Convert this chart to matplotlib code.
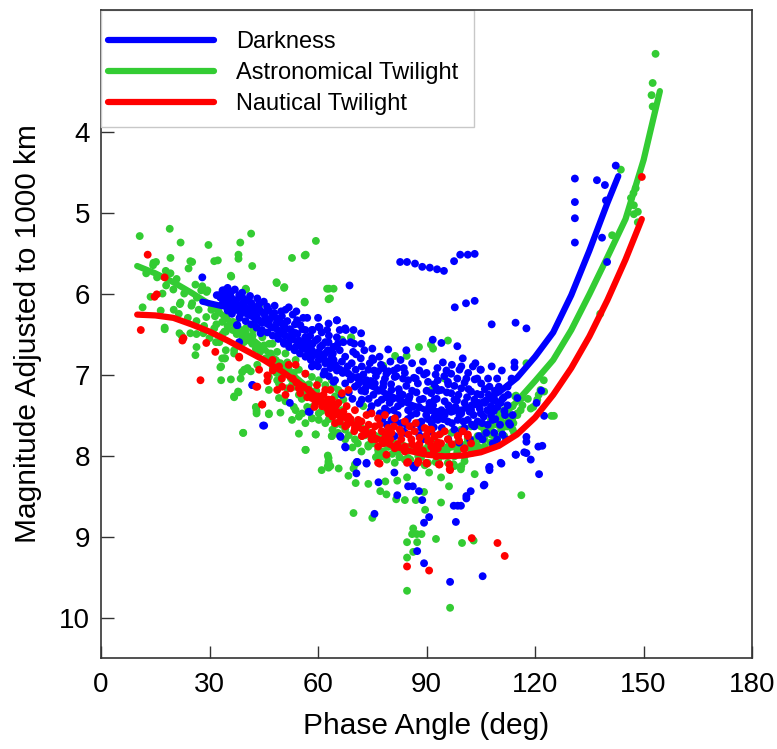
import matplotlib
matplotlib.use("Agg")
import matplotlib.pyplot as plt
from matplotlib.lines import Line2D
from matplotlib.patches import Rectangle

plt.rcParams['font.family'] = ['Liberation Sans', 'DejaVu Sans']

# ---------------- fitted curves (phase angle deg, magnitude) ----------------
dark_curve_x = [28, 30, 35, 40, 45, 50, 55, 60, 65, 70, 75, 80, 85, 90, 95, 100, 105, 110, 115, 120, 125, 130, 135, 140, 143]
dark_curve_y = [6.10, 6.12, 6.17, 6.25, 6.36, 6.48, 6.62, 6.76, 6.90, 7.03, 7.15, 7.26, 7.36, 7.44, 7.46, 7.43, 7.35, 7.22, 7.04, 6.78, 6.48, 6.02, 5.47, 4.88, 4.55]

astro_curve_x = [10, 15, 20, 25, 30, 35, 40, 45, 50, 55, 60, 65, 70, 75, 80, 85, 90, 95, 100, 105, 110, 115, 120, 125, 130, 135, 140, 145, 150, 152, 154.5]
astro_curve_y = [5.66, 5.75, 5.86, 5.99, 6.13, 6.32, 6.50, 6.68, 6.89, 7.08, 7.27, 7.45, 7.60, 7.73, 7.83, 7.89, 7.92, 7.92, 7.87, 7.76, 7.56, 7.33, 7.08, 6.82, 6.45, 6.01, 5.55, 5.08, 4.35, 3.97, 3.50]

naut_curve_x = [10, 15, 20, 25, 30, 35, 40, 45, 50, 55, 60, 65, 70, 75, 80, 85, 90, 95, 100, 105, 110, 115, 120, 125, 130, 135, 140, 145, 149.5]
naut_curve_y = [6.26, 6.27, 6.30, 6.38, 6.47, 6.58, 6.70, 6.82, 6.96, 7.12, 7.28, 7.46, 7.62, 7.76, 7.87, 7.94, 7.99, 8.01, 8.00, 7.96, 7.88, 7.74, 7.53, 7.25, 6.92, 6.53, 6.08, 5.58, 5.08]

# ---------------- observations (phase angle deg, magnitude) ----------------
dark_points = [
    (82.7, 5.61), (84.6, 5.61), (86.8, 5.63), (88.8, 5.67), (90.9, 5.68), (92.9, 5.70), (94.8, 5.72),
    (97.6, 5.60), (99.3, 5.52), (101.4, 5.52), (103.3, 5.51), (97.8, 6.17), (100.9, 6.12), (103.3, 6.09),
    (68.7, 5.90), (131, 4.58), (131, 4.87), (131, 5.07), (131, 5.37), (137.1, 4.60), (139.3, 4.66),
    (142.3, 4.42), (139.6, 4.85), (138.5, 5.31), (139.9, 5.61), (108, 6.38), (114.6, 6.36), (117.6, 6.43),
    (114.3, 6.85), (114.3, 6.91), (105, 6.94), (121.7, 7.2), (120.4, 7.35), (122.5, 7.51), (117.6, 7.77),
    (117.6, 7.83), (120.9, 7.89), (66.2, 7.77), (67.6, 7.9), (70.9, 8.08), (73.4, 8.1), (70.6, 8.22),
    (76.7, 8.33), (75.6, 8.72), (81.9, 8.49), (84.9, 8.38), (86.2, 8.38), (87.9, 8.44), (88.8, 8.55),
    (90.7, 8.76), (89.3, 8.83), (87.4, 9.18), (89.3, 9.33), (96.5, 9.56), (105.5, 9.49), (97.5, 8.62),
    (98.6, 8.62), (99.5, 8.62), (98.1, 8.82), (101, 8.53), (101, 8.50), (102.2, 8.44), (105.8, 8.37),
    (107.4, 8.18), (107.4, 8.14), (110.7, 8.1), (114.6, 7.99), (117, 7.96), (86.6, 8.15), (86.9, 8.12),
    (81.1, 8.21), (41.8, 7.13), (52.2, 7.35), (57.7, 7.46), (44.8, 7.63), (37.6, 6.39), (51.9, 6.17),
    (28, 5.80), (32.7, 6.02), (65.2, 6.33), (67.5, 6.43), (69.8, 6.45), (71.9, 6.49), (64.3, 6.66),
    (79.4, 6.69), (84.4, 6.70), (91.7, 6.57), (60.4, 6.42), (58.5, 6.45), (67.7, 6.45), (94.1, 6.61),
    (98.5, 6.65), (102.8, 6.90), (104.9, 6.94), (99.1, 6.94), (96.8, 6.99), (93.1, 7.07), (95.9, 7.09),
    (112.4, 7.15), (108.3, 7.31), (121.1, 8.23), (118.8, 8.05), (106, 8.36), (105.1, 7.11), (107.4, 7.15),
    (34.1, 5.96), (35.9, 5.98), (38.2, 6.02), (34.5, 6.07), (36.8, 6.09), (39.1, 6.05), (40.9, 6.09),
    (33.6, 6.13), (36.4, 6.17), (39.6, 6.15), (41.9, 6.17), (43.7, 6.13), (44.6, 6.23), (42.3, 6.25),
    (46.4, 6.21), (47.4, 6.27), (45.5, 6.31), (48.7, 6.31), (50.1, 6.37), (48.3, 6.41), (51.0, 6.43),
    (52.8, 6.47), (54.2, 6.33), (55.1, 6.39), (56.5, 6.45), (58.3, 6.45), (60.2, 6.41), (62.9, 6.37),
    (65.2, 6.33), (54.7, 6.58), (51.9, 6.60), (57.4, 6.60), (55.6, 6.68), (58.3, 6.70), (60.2, 6.72),
    (62.0, 6.74), (63.8, 6.78), (60.2, 6.82), (63.4, 6.88), (65.2, 6.95), (58.3, 6.90), (57.4, 6.76),
    (44.1, 6.49), (37.7, 6.39), (38.2, 6.60), (41.9, 7.13), (57.4, 7.46), (64.3, 7.09), (45.1, 7.63),
    (62.9, 6.60), (64.3, 6.66), (65.2, 6.54), (43.7, 6.33), (40.5, 6.21), (46.4, 6.37), (49.2, 6.49),
    (53.8, 6.49), (56.5, 6.54), (59.3, 6.58), (61.1, 6.64), (62.0, 6.86), (64.3, 6.82), (53.8, 6.66),
    (50.6, 6.62), (42.8, 6.33), (38.6, 6.25), (35.0, 6.21),
    (63.8, 6.82), (66.6, 6.84), (69.3, 6.86), (72.1, 6.90), (74.3, 6.86), (76.6, 6.96), (78.9, 6.99),
    (81.2, 7.03), (83.5, 7.05), (84.9, 7.07), (87.6, 7.11), (90.4, 7.09), (92.7, 7.17), (65.6, 6.94),
    (68.4, 6.99), (71.1, 7.03), (73.4, 7.07), (75.7, 7.11), (78.0, 7.15), (80.3, 7.19), (82.6, 7.23),
    (85.3, 7.27), (88.1, 7.31), (90.8, 7.35), (64.7, 7.07), (67.5, 7.11), (70.2, 7.15), (73.0, 7.21),
    (75.3, 7.25), (77.6, 7.31), (79.8, 7.35), (82.1, 7.39), (84.9, 7.44), (87.2, 7.48), (89.9, 7.50),
    (92.2, 7.52), (72.1, 7.31), (74.8, 7.39), (77.1, 7.48), (80.3, 7.56), (83.0, 7.60), (85.8, 7.64),
    (88.5, 7.66), (91.3, 7.70), (84.0, 7.72), (81.2, 7.76), (89.0, 7.80), (66.1, 7.76), (67.5, 7.89),
    (70.7, 8.08), (73.4, 8.09), (86.3, 8.13),
    (91.3, 7.23), (94.1, 7.19), (96.8, 7.23), (99.6, 7.17), (102.3, 7.21), (105.0, 7.25), (92.2, 7.31),
    (95.0, 7.33), (97.7, 7.31), (100.5, 7.35), (103.2, 7.31), (106.0, 7.35), (107.8, 7.39), (110.5, 7.35),
    (91.3, 7.44), (94.1, 7.44), (96.8, 7.46), (99.6, 7.48), (102.3, 7.44), (105.0, 7.48), (107.8, 7.50),
    (93.1, 7.56), (95.9, 7.58), (98.6, 7.56), (101.4, 7.56), (104.1, 7.58), (106.9, 7.62), (97.7, 7.68),
    (100.5, 7.66), (103.2, 7.64), (108.7, 7.72), (105.5, 7.80), (108.3, 7.85), (111.0, 7.74), (114.7, 7.99),
    (117.6, 7.97), (122.0, 7.88), (107.3, 8.15), (110.5, 8.09), (113.8, 7.50), (115.1, 7.29),
    (32.0, 6.02), (33.6, 5.96), (35.9, 5.98), (40.5, 6.08), (42.8, 6.17), (47.3, 6.29), (49.2, 6.33),
    (50.6, 6.41), (53.8, 6.49), (56.5, 6.54), (54.7, 6.62), (57.0, 6.70), (58.8, 6.76),
    (99.6, 6.90), (109.5, 7.05), (111.5, 7.45), (112.8, 7.60), (109.0, 7.55), (96.0, 7.38), (86.0, 7.20),
    (78.5, 7.05), (70.5, 6.75), (75.0, 6.80), (82.0, 6.92), (88.0, 6.95), (94.5, 6.85), (101.0, 7.05),
    (33.0, 6.05), (33.8, 6.10), (34.6, 6.02), (35.3, 6.12), (36.0, 6.05), (36.7, 6.20), (37.4, 6.08),
    (38.0, 6.14), (38.8, 6.22), (39.5, 6.10), (40.2, 6.18), (40.9, 6.26), (41.6, 6.12), (42.2, 6.22),
    (43.0, 6.28), (43.8, 6.20), (44.4, 6.36), (45.2, 6.26), (45.9, 6.16), (46.6, 6.32), (35.0, 5.93),
    (37.0, 5.95), (39.0, 5.99), (41.2, 6.03), (43.2, 6.06), (45.0, 6.10),
    (47.2, 6.42), (47.9, 6.24), (48.6, 6.36), (49.3, 6.46), (50.0, 6.28), (50.8, 6.52), (51.5, 6.34),
    (52.2, 6.44), (52.9, 6.56), (53.6, 6.38), (54.3, 6.50), (55.0, 6.62), (55.7, 6.44), (56.4, 6.58),
    (49.8, 6.22), (53.0, 6.26), (55.9, 6.30),
    (57.1, 6.66), (57.8, 6.52), (58.5, 6.62), (59.2, 6.74), (59.9, 6.56), (60.6, 6.66), (61.3, 6.80),
    (62.0, 6.60), (62.7, 6.70), (63.4, 6.92), (64.1, 6.74), (64.8, 6.88), (61.0, 6.48), (63.0, 6.52),
    (65.5, 6.62), (59.0, 6.88), (61.8, 6.96),
    (66.0, 6.70), (66.8, 6.98), (67.5, 6.78), (68.2, 6.90), (69.0, 7.06), (69.7, 6.72), (70.4, 6.94),
    (71.1, 7.12), (71.8, 6.80), (72.5, 7.00), (73.2, 7.16), (73.9, 6.94), (74.6, 7.08), (75.3, 6.82),
    (67.0, 6.60), (70.0, 6.62), (72.8, 6.70), (74.0, 7.30), (68.5, 7.22), (71.5, 7.36),
    (76.0, 7.02), (76.7, 7.20), (77.4, 6.88), (78.1, 7.10), (78.8, 7.28), (79.5, 6.96), (80.2, 7.12),
    (80.9, 7.44), (81.6, 7.02), (82.3, 7.18), (83.0, 7.36), (83.7, 6.92), (84.4, 7.14), (85.1, 7.30),
    (85.8, 7.50), (86.5, 7.04), (87.2, 7.22), (87.9, 7.40), (88.6, 7.58), (89.3, 7.00), (90.0, 7.20),
    (77.0, 6.78), (80.0, 6.84), (82.8, 6.82), (86.0, 6.86), (89.0, 6.84), (78.5, 7.42), (81.5, 7.58),
    (84.5, 7.62),
    (90.7, 7.40), (91.4, 7.60), (92.1, 7.12), (92.8, 7.30), (93.5, 7.48), (94.2, 7.66), (94.9, 7.02),
    (95.6, 7.22), (96.3, 7.40), (97.0, 7.60), (97.7, 7.14), (98.4, 7.32), (99.1, 7.50), (99.8, 7.70),
    (100.5, 7.10), (101.2, 7.28), (101.9, 7.46), (102.6, 7.62), (103.3, 7.06), (104.0, 7.24), (104.7, 7.42),
    (105.4, 7.60), (106.1, 7.18), (106.8, 7.44), (93.0, 6.92), (97.0, 6.88), (100.0, 6.80), (103.5, 6.86),
    (107.5, 7.28), (108.2, 7.56), (108.9, 7.20), (109.6, 7.40), (110.3, 7.62), (111.0, 7.30), (111.7, 7.50),
    (112.4, 7.38), (113.1, 7.62), (112.0, 7.80), (109.5, 7.80), (106.5, 7.72), (104.5, 7.76), (102.0, 7.80),
    (99.0, 7.84), (96.0, 7.80),
    (76.5, 7.35), (77.8, 7.55), (79.2, 7.45), (80.6, 7.30), (82.0, 7.50), (83.4, 7.25), (84.8, 7.55),
    (86.2, 7.40), (87.6, 7.60), (89.0, 7.30), (90.4, 7.55), (91.8, 7.38), (93.2, 7.20), (94.6, 7.55),
    (96.0, 7.12), (97.4, 7.45), (98.8, 7.25), (100.2, 7.58), (101.6, 7.18), (103.0, 7.50), (104.4, 7.35),
    (105.8, 7.52), (107.2, 7.25), (108.6, 7.45), (110.0, 7.15), (111.4, 7.28), (75.5, 6.95), (78.0, 6.92),
    (81.0, 6.95), (84.0, 6.98), (87.0, 7.05), (90.0, 6.98), (92.5, 7.00), (95.5, 6.95), (98.5, 7.05),
    (101.5, 6.98), (104.0, 7.05), (107.0, 7.05), (72.0, 7.20), (69.5, 7.30), (66.5, 7.25), (74.5, 7.45),
    (79.0, 7.62), (83.5, 7.70), (88.0, 7.75), (92.0, 7.65), (95.0, 7.50), (98.0, 7.40), (102.5, 7.38),
    (106.5, 7.32), (109.0, 7.32), (112.5, 7.25), (113.5, 7.05), (110.8, 6.95), (108.0, 6.90),
    (36.2, 6.25), (38.3, 6.30), (40.0, 6.34), (41.5, 6.38), (43.0, 6.42), (44.5, 6.45), (46.0, 6.48),
    (47.5, 6.52), (49.0, 6.56), (50.5, 6.60), (52.0, 6.66), (53.5, 6.70), (55.0, 6.74), (56.5, 6.78),
    (58.0, 6.82), (60.0, 6.90), (61.5, 7.00), (63.0, 7.02), (48.0, 6.15), (51.0, 6.20), (54.0, 6.22),
    (57.0, 6.30), (60.0, 6.30), (62.5, 6.45), (66.0, 6.45), (69.0, 6.60), (72.0, 6.62), (75.0, 6.68),
]

astro_points = [
    (63.0, 5.94), (64.3, 5.94), (63.3, 6.06), (153.3, 3.04), (152.5, 3.40), (152.2, 3.55), (152.5, 3.69),
    (143.7, 4.47), (147.8, 4.70), (147.2, 4.76), (146.5, 4.82), (147.3, 4.91), (148.4, 4.99), (147.3, 5.02),
    (148.4, 5.12), (141.3, 5.28), (138.0, 6.25), (117.6, 6.86), (124.5, 7.51), (125.2, 7.51),
    (56.6, 7.93), (61.0, 8.18), (62.7, 8.00), (62.9, 8.07), (62.7, 8.13), (65.7, 8.16), (68.4, 8.25),
    (69.8, 8.16), (70.4, 8.34), (73.9, 8.35), (77.2, 8.44), (78.9, 8.48), (81.6, 8.54), (84.0, 8.55),
    (87.0, 8.55), (69.8, 8.71), (75.0, 8.77), (78.6, 8.32), (81.9, 8.31), (84.6, 8.27), (90.7, 8.21),
    (94.0, 8.27), (96.2, 8.38), (94.0, 8.58), (86.3, 8.90), (86.0, 8.97), (87.3, 8.97), (88.6, 8.97),
    (84.6, 9.07), (87.4, 9.07), (86.3, 9.19), (84.6, 9.26), (89.6, 8.67), (89.3, 8.45), (92.6, 9.03),
    (99.8, 9.08), (103.0, 9.05), (84.6, 9.67), (96.5, 9.88), (116.2, 8.49), (103.3, 8.23), (99.5, 8.17),
    (97.5, 8.11),
    (10.7, 5.29), (19.0, 5.20), (22.0, 5.37), (29.7, 5.40), (19.2, 5.56), (14.5, 5.62), (15.2, 5.61),
    (14.4, 5.65), (24.7, 5.60), (25.2, 5.61), (31.3, 5.60), (32.3, 5.59), (24.2, 5.69), (17.9, 5.72),
    (19.2, 5.75), (20.9, 5.82), (26.1, 5.89), (28.0, 5.91), (27.7, 5.96), (29.4, 5.96), (29.2, 5.98),
    (13.7, 6.04), (11.5, 6.17), (22.0, 6.11), (21.8, 6.13), (25.0, 6.15), (25.2, 6.12), (16.5, 6.21),
    (20.1, 6.20), (29.1, 6.29), (17.6, 6.42), (17.6, 6.44), (26.4, 6.34), (31.9, 6.38), (21.7, 6.49),
    (22.3, 6.52), (24.7, 6.49), (26.4, 6.50), (28.3, 6.49), (26.4, 6.66), (26.1, 6.76), (32.7, 6.60),
    (34.1, 6.80), (33.0, 6.91),
    (41.5, 5.26), (38.5, 5.37), (38.0, 5.52), (38.0, 5.57), (41.8, 5.66), (36.0, 5.79), (52.8, 5.56),
    (56.6, 5.52), (59.4, 5.35), (48.6, 5.87), (50.6, 5.93), (56.3, 6.10), (40.1, 5.95), (37.9, 7.21),
    (36.8, 7.28), (42.9, 7.41), (43.0, 7.45), (46.4, 7.48), (39.3, 7.72), (54.7, 7.73), (59.4, 7.74),
    (39.0, 6.97), (40.4, 6.93), (33.5, 6.80),
    (35.9, 5.78), (48.5, 5.86), (50.7, 5.92), (40.0, 5.94), (56.3, 6.11), (62.5, 5.94), (62.9, 6.07),
    (43.7, 6.15), (36.4, 6.45), (34.1, 6.47), (34.3, 6.80), (33.2, 6.90), (36.8, 6.70), (39.6, 6.94),
    (36.8, 7.27), (38.0, 7.22), (40.5, 6.92), (42.8, 7.40), (43.0, 7.48), (46.4, 7.49), (39.3, 7.72),
    (59.3, 7.74), (56.5, 7.93), (63.8, 7.76), (62.9, 8.03), (62.9, 8.09), (62.9, 8.15),
    (34.5, 6.29), (37.3, 6.37), (40.0, 6.43), (41.9, 6.52), (44.6, 6.54), (43.7, 6.66), (47.4, 6.62),
    (48.7, 6.72), (51.0, 6.74), (53.8, 6.82), (50.1, 6.90), (51.9, 6.94), (54.7, 6.94), (56.5, 6.99),
    (58.3, 7.03), (60.2, 7.07), (62.0, 7.13), (64.3, 7.15), (48.7, 7.07), (52.8, 7.13), (55.6, 7.19),
    (58.3, 7.23), (60.2, 7.31), (62.0, 7.33), (57.0, 7.40), (53.3, 7.40), (49.2, 7.29), (46.4, 7.19),
    (60.2, 7.48), (63.8, 7.44), (58.3, 7.54), (60.2, 7.56), (65.2, 7.60), (54.7, 7.52),
    (56.3, 5.53), (66.6, 6.57), (69.2, 6.55), (81.3, 6.77), (84.5, 6.77), (87.9, 6.66), (91.2, 6.63),
    (91.8, 6.68), (95.9, 6.58), (95.0, 7.05), (114.7, 7.26), (69.1, 6.54), (78.0, 6.89), (91.3, 7.19),
    (63.8, 7.07), (65.6, 7.19), (64.7, 7.27), (67.0, 7.31), (64.3, 7.39), (66.6, 7.44), (72.5, 7.39),
    (64.7, 7.62), (63.8, 7.76), (67.5, 7.68), (70.2, 7.80), (72.1, 7.76), (74.8, 7.80), (78.0, 7.72),
    (73.9, 7.89), (76.6, 7.93), (79.4, 7.89), (82.1, 7.95), (84.9, 7.93), (87.6, 7.95), (90.4, 7.89),
    (92.2, 7.80), (84.0, 8.05), (81.2, 8.09), (77.6, 8.01), (70.2, 8.11), (63.4, 8.13),
    (92.2, 7.17), (114.5, 7.27), (116.3, 7.29), (121.5, 7.19), (122.4, 7.07),
    (94.1, 7.72), (96.8, 7.72), (99.6, 7.68), (102.3, 7.64), (105.0, 7.64), (107.8, 7.56), (110.1, 7.48),
    (111.5, 7.44), (113.8, 7.39), (113.3, 7.52), (115.1, 7.48), (109.6, 7.62), (112.4, 7.64), (106.9, 7.72),
    (104.1, 7.76), (101.4, 7.80), (98.6, 7.84), (95.9, 7.89), (93.1, 7.93), (97.7, 8.01), (100.5, 8.01),
    (103.2, 7.93), (106.0, 7.89), (108.7, 7.82), (99.6, 8.13), (97.3, 8.11), (114.2, 7.72), (111.5, 7.76),
    (113.2, 7.40), (116.0, 7.44), (111.0, 7.46), (113.8, 7.53), (108.3, 7.60), (111.8, 7.64),
    (113.8, 7.68), (107.7, 7.84), (106.0, 7.68),
    (31.3, 6.43), (33.6, 6.50), (34.5, 6.47), (40.0, 6.49), (39.1, 6.54), (41.8, 6.62), (42.8, 6.68),
    (45.1, 6.64), (46.9, 6.74), (48.3, 6.82), (49.6, 6.86), (51.0, 6.92), (53.3, 6.98), (46.4, 7.03),
    (43.2, 6.88), (41.4, 6.96), (38.6, 7.05), (35.9, 7.06), (33.2, 7.07), (31.8, 6.60), (34.5, 6.70),
    (36.8, 6.74), (49.2, 7.11), (51.5, 7.17), (54.7, 7.25), (51.0, 7.33), (53.8, 7.44), (55.6, 7.48),
    (58.3, 7.54), (52.8, 7.56), (56.5, 7.60), (49.6, 7.47),
    (82.2, 7.93), (84.9, 8.03), (87.7, 8.01), (90.4, 8.09), (93.2, 8.05), (95.9, 8.09), (97.7, 8.13),
    (100.5, 8.07), (102.3, 7.97), (104.2, 7.89), (106.0, 7.80), (107.8, 7.74), (110.6, 7.68), (112.4, 7.58),
    (115.1, 7.50), (118.8, 7.42), (120.6, 7.31), (122.5, 7.21), (79.4, 7.89), (76.7, 7.97), (73.9, 7.87),
    (77.6, 7.80),
    (30.5, 6.20), (31.5, 6.28), (32.5, 6.22), (33.5, 6.35), (35.0, 6.40), (36.5, 6.35), (37.5, 6.50),
    (38.5, 6.45), (39.5, 6.60), (41.0, 6.58), (42.0, 6.45), (44.0, 6.72), (45.5, 6.80), (46.5, 6.62),
    (47.5, 6.92), (48.5, 6.98), (50.0, 7.02), (51.5, 6.85), (52.5, 7.05), (53.5, 7.15), (54.5, 7.08),
    (55.5, 7.30), (56.5, 7.25), (57.5, 7.12), (58.5, 7.40), (59.5, 7.20), (61.0, 7.45), (62.0, 7.60),
    (63.0, 7.55), (64.0, 7.68), (65.5, 7.72), (66.5, 7.62), (67.5, 7.80), (68.5, 7.75), (69.5, 7.90),
    (71.0, 7.85), (72.0, 7.95), (73.0, 7.75), (75.0, 7.85), (76.0, 8.02), (78.0, 7.95), (79.0, 8.05),
    (80.5, 7.98), (82.5, 8.02), (83.5, 7.88), (85.5, 8.05), (86.5, 7.92), (88.5, 8.02), (89.5, 8.12),
    (91.5, 7.98), (92.5, 8.08), (94.5, 8.00), (95.5, 7.95), (98.5, 7.95), (101.5, 7.90), (103.0, 7.85),
    (104.5, 7.80), (108.0, 7.70), (109.0, 7.75), (110.5, 7.58), (112.0, 7.50), (114.0, 7.60), (116.5, 7.38),
    (118.0, 7.30), (119.5, 7.40), (121.0, 7.25), (15.5, 5.80), (18.0, 5.90), (20.0, 5.95), (23.0, 6.00),
    (26.5, 6.05), (12.5, 5.75), (17.0, 6.00), (21.5, 6.25), (24.0, 6.30), (27.0, 6.20), (28.5, 6.40),
    (30.0, 6.55),
]

naut_points = [
    (77.0, 8.10), (84.6, 8.09), (87.7, 8.07), (90.1, 8.10), (93.4, 8.11), (96.5, 8.18), (84.6, 9.37),
    (90.7, 9.42), (102.5, 9.02), (109.6, 9.08), (111.6, 9.24), (149.5, 4.56),
    (12.9, 5.52), (17.6, 5.80), (15.4, 6.01), (14.8, 6.04), (11.0, 6.45), (22.8, 6.55), (22.5, 6.58),
    (29.1, 6.61), (31.6, 6.72), (27.5, 7.07), (42.9, 7.15), (44.5, 7.37), (38.2, 6.79),
    (63.4, 7.19), (66.6, 7.23), (68.4, 7.19), (63.8, 7.31), (65.6, 7.35), (67.9, 7.39), (70.2, 7.44),
    (63.8, 7.44), (65.6, 7.50), (68.4, 7.52), (71.1, 7.56), (73.4, 7.50), (74.8, 7.48), (76.6, 7.54),
    (78.5, 7.50), (81.2, 7.54), (84.0, 7.58), (64.7, 7.60), (67.5, 7.64), (70.2, 7.66), (73.0, 7.68),
    (75.7, 7.64), (77.6, 7.70), (80.3, 7.72), (82.6, 7.68), (85.3, 7.64), (86.7, 7.70), (89.5, 7.66),
    (91.3, 7.68), (72.1, 7.76), (74.8, 7.80), (78.5, 7.78), (79.4, 7.66), (83.0, 7.80), (85.8, 7.80),
    (88.1, 7.78), (90.4, 7.82), (92.2, 7.76), (76.6, 7.89), (81.2, 7.91), (84.0, 7.89), (87.2, 7.91),
    (91.3, 7.89), (78.9, 7.99), (84.9, 8.08), (87.6, 8.09), (89.9, 8.09), (76.6, 8.09), (92.7, 8.01),
    (38.2, 6.78), (43.7, 6.94), (46.0, 7.01), (46.0, 7.08), (43.2, 7.15), (44.6, 7.37), (47.4, 6.82),
    (49.2, 6.90), (51.9, 6.88), (53.8, 6.88), (50.1, 7.15), (52.4, 7.17), (48.7, 7.19), (51.0, 7.25),
    (54.7, 7.17), (56.5, 6.99), (59.7, 7.13), (55.1, 7.23), (57.4, 7.19), (58.3, 7.29), (60.2, 7.27),
    (62.0, 7.19), (62.9, 7.31), (59.3, 7.35), (61.1, 7.39), (63.8, 7.39), (65.2, 7.46), (62.9, 7.48),
    (90.4, 7.68), (92.2, 7.76), (93.6, 7.74), (93.1, 7.84), (95.9, 7.80), (98.6, 7.76), (101.4, 7.76),
    (102.3, 7.85), (93.1, 7.91), (100.5, 7.91), (93.6, 8.11), (96.3, 8.11), (91.8, 7.89),
    (98.7, 7.76), (101.4, 7.74), (100.3, 7.92), (96.4, 8.17),
    (56.0, 7.15), (57.0, 7.28), (58.0, 7.22), (59.0, 7.40), (60.5, 7.32), (61.5, 7.25), (62.5, 7.42),
    (64.0, 7.52), (65.0, 7.38), (66.0, 7.58), (67.0, 7.46), (68.0, 7.62), (69.0, 7.55), (70.0, 7.70),
    (71.0, 7.62), (72.0, 7.58), (73.0, 7.74), (74.0, 7.62), (75.0, 7.72), (76.0, 7.80), (77.0, 7.62),
    (78.0, 7.85), (79.0, 7.74), (80.0, 7.80), (81.0, 7.64), (82.0, 7.86), (83.0, 7.72), (84.0, 7.95),
    (85.0, 7.74), (86.0, 7.86), (87.0, 7.60), (88.0, 7.86), (89.0, 7.94), (90.0, 7.75), (91.0, 7.82),
    (92.0, 7.95), (94.0, 7.85), (95.0, 7.70), (97.0, 7.86), (99.0, 7.82), (100.0, 7.70), (53.0, 7.05),
    (54.0, 7.10), (50.0, 7.05), (47.5, 6.95),
]

labels = ['Darkness', 'Astronomical Twilight', 'Nautical Twilight']
colors = ['#0000FF', '#33CC33', '#FF0000']
xticks = [0, 30, 60, 90, 120, 150, 180]
yticks = [4, 5, 6, 7, 8, 9, 10]

fig = plt.figure(figsize=(7.77, 7.49), dpi=100)
ax = fig.add_axes([0.130, 0.1215, 0.838, 0.865])

def scatter(points, color, z):
    xs = [p[0] for p in points]
    ys = [p[1] for p in points]
    ax.scatter(xs, ys, s=32, color=color, edgecolors='none', zorder=z)

scatter(astro_points, colors[1], 2)
ax.plot(astro_curve_x, astro_curve_y, color=colors[1], lw=4.5, solid_capstyle='round', zorder=3)
scatter(dark_points, colors[0], 4)
ax.plot(dark_curve_x, dark_curve_y, color=colors[0], lw=4.5, solid_capstyle='round', zorder=5)
scatter(naut_points, colors[2], 6)
ax.plot(naut_curve_x, naut_curve_y, color=colors[2], lw=4.5, solid_capstyle='round', zorder=7)

# legend box and entries
ax.add_patch(Rectangle((0.0, 0.8194), 0.5735, 0.1806, transform=ax.transAxes,
                       facecolor='white', edgecolor='#c8c8c8', lw=1.0, zorder=9, clip_on=False))
handles = [Line2D([], [], color=c, lw=4.5, solid_capstyle='round') for c in colors]
leg = ax.legend(handles, labels, loc='upper left', bbox_to_anchor=(0.011, 0.9675), borderaxespad=0,
                fontsize=17, handlelength=4.5, handletextpad=0.9, labelspacing=0.38,
                borderpad=0, frameon=False)
leg.set_zorder(10)

ax.set_xlim(0, 180)
ax.set_ylim(10.5, 2.5)
ax.set_xticks(xticks)
ax.set_yticks(yticks)
ax.tick_params(axis='both', direction='in', length=9, width=1, color='#333333', labelsize=20)
ax.tick_params(axis='x', pad=10)
ax.tick_params(axis='y', pad=8)
for s in ax.spines.values():
    s.set_color('#333333')
    s.set_linewidth(1.2)
ax.spines['top'].set_zorder(11)

ax.set_xlabel('Phase Angle (deg)', fontsize=21.5, labelpad=10)
ax.set_ylabel('Magnitude Adjusted to 1000 km', fontsize=21.5, labelpad=12)

fig.savefig('out.png', dpi=100)
